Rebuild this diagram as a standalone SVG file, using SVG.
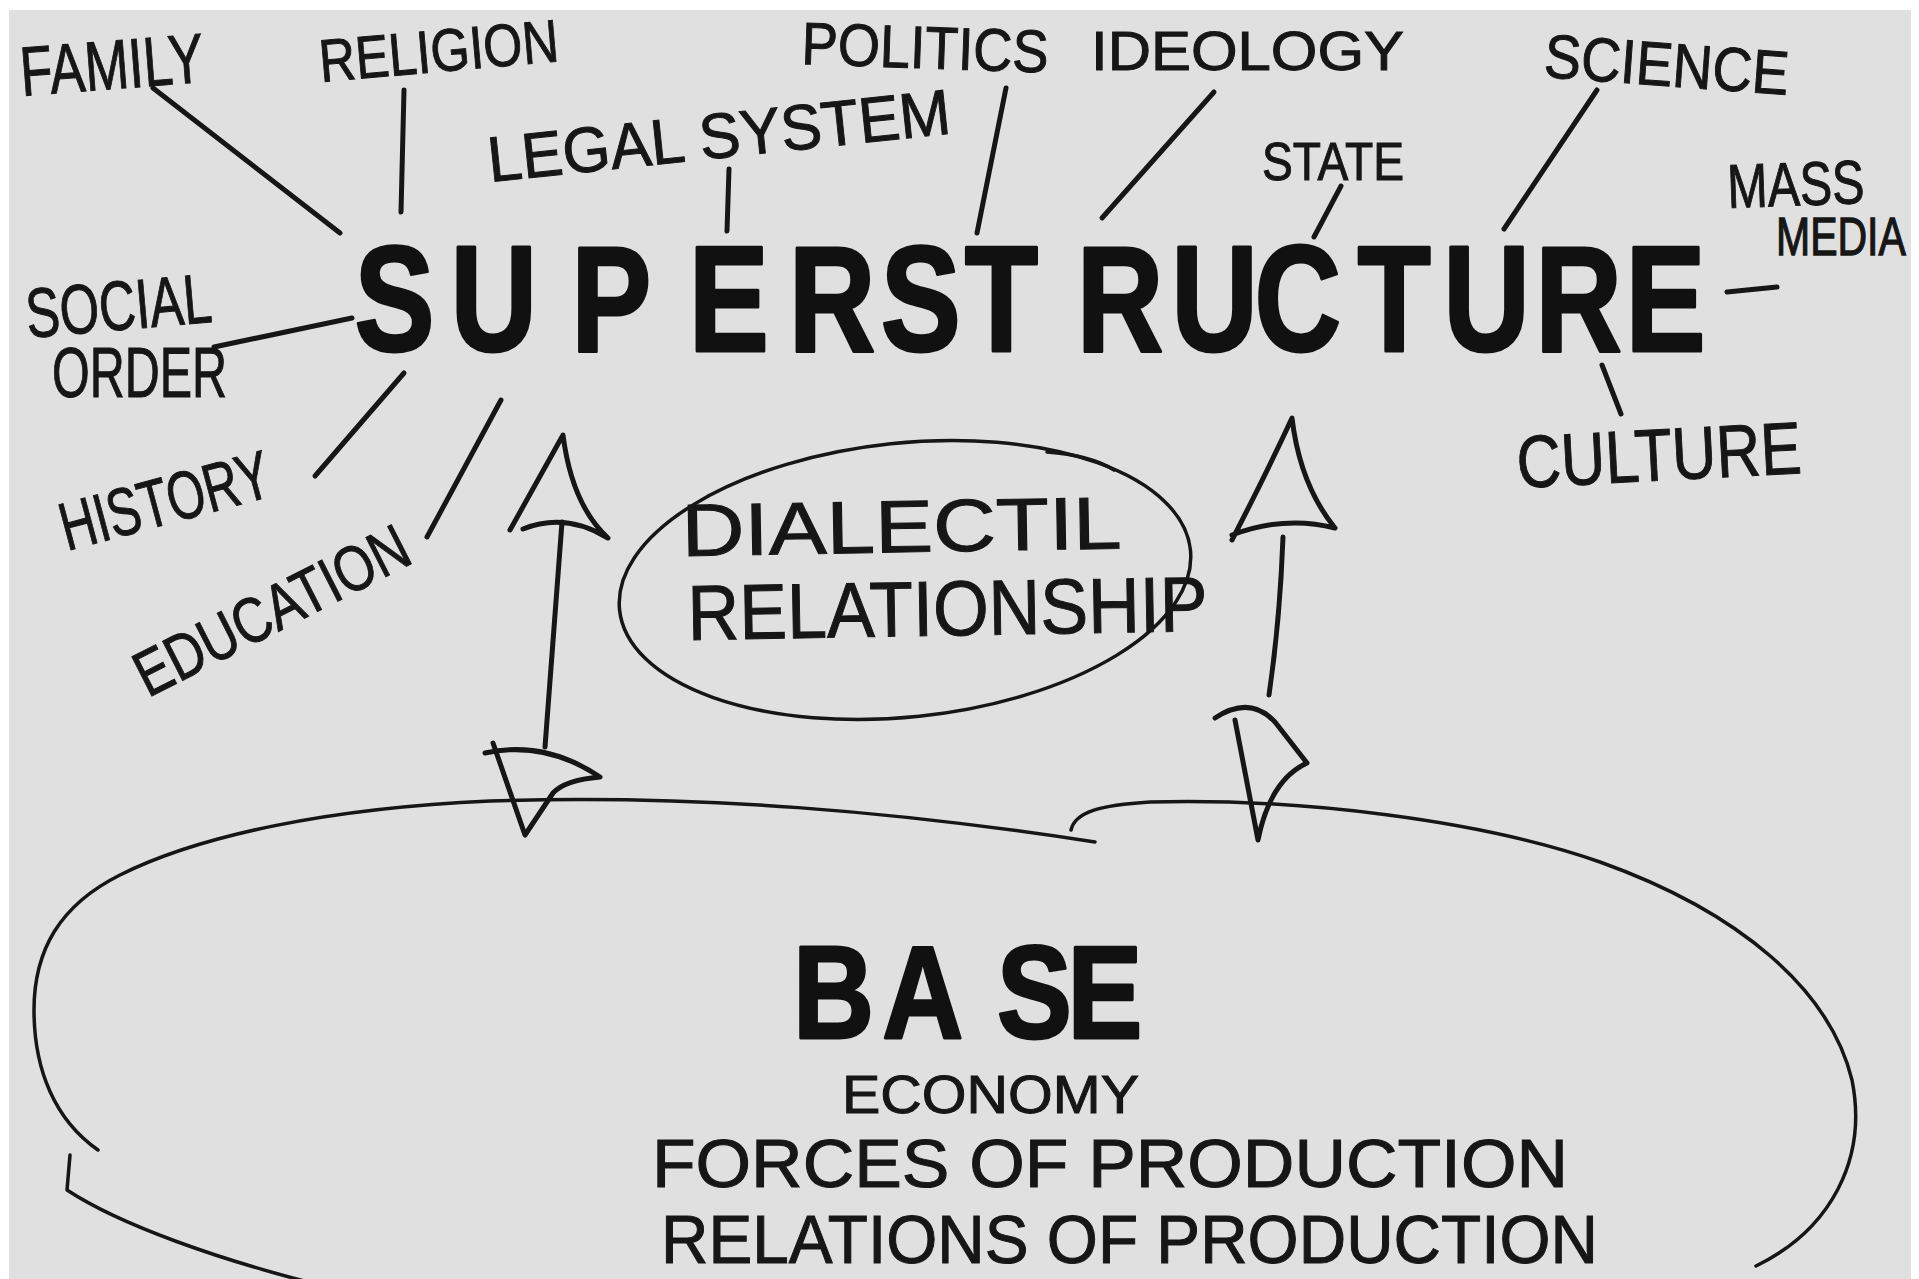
<svg xmlns="http://www.w3.org/2000/svg" width="1919" height="1279" viewBox="0 0 1919 1279">
<style>
.hw{font-family:"Liberation Sans",Arial,sans-serif;fill:#161616;stroke:#161616;stroke-width:1;}
.brush{font-family:"Liberation Sans",Arial,sans-serif;font-weight:bold;fill:#111;stroke:#111;stroke-width:3;stroke-linejoin:round;}
.ln{fill:none;stroke:#161616;stroke-width:5;stroke-linecap:round;stroke-linejoin:round;}
.ol{fill:none;stroke:#161616;stroke-width:3.5;stroke-linecap:round;stroke-linejoin:round;}
</style>
<rect x="0" y="0" width="1919" height="1279" fill="#ffffff"/>
<rect x="9" y="10" width="1902" height="1269" fill="#e0e0e0"/>

<g id="connectors">
  <line class="ln" x1="153" y1="88" x2="340" y2="233"/>
  <line class="ln" x1="404" y1="90" x2="401" y2="212"/>
  <line class="ln" x1="729" y1="169" x2="727" y2="231"/>
  <line class="ln" x1="352" y1="318" x2="214" y2="347"/>
  <line class="ln" x1="404" y1="373" x2="315" y2="476"/>
  <line class="ln" x1="501" y1="400" x2="427" y2="537"/>
  <line class="ln" x1="1006" y1="88" x2="977" y2="233"/>
  <line class="ln" x1="1214" y1="92" x2="1102" y2="218"/>
  <line class="ln" x1="1341" y1="186" x2="1314" y2="237"/>
  <line class="ln" x1="1597" y1="90" x2="1504" y2="229"/>
  <line class="ln" x1="1727" y1="292" x2="1777" y2="287"/>
  <line class="ln" x1="1602" y1="365" x2="1621" y2="414"/>
  <!-- left double arrow -->
  <path class="ln" d="M510,530 L563,435 Q572,505 608,538 Q565,512 523,529"/>
  <path class="ln" d="M562,522 L545,747"/>
  <path class="ln" d="M485,753 Q545,740 600,777 Q565,780 553,793 L525,835 L493,743"/>
  <!-- right double arrow -->
  <path class="ln" d="M1232,540 Q1268,470 1292,418 Q1300,485 1335,528 Q1285,515 1232,535"/>
  <path class="ln" d="M1283,537 Q1280,620 1269,695"/>
  <path class="ln" d="M1215,718 Q1250,695 1275,722 Q1293,745 1307,763 Q1270,780 1258,840 L1235,720"/>
</g>

<g id="superstructure">
  <text class="brush" font-size="150" transform="translate(0,351) scale(0.8,1)" x="443 563 714 861 986 1101 1206 1346 1464 1568 1697 1804 1919 2032" y="0">SUPERSTRUCTURE</text>
</g>

<g id="family"><text class="hw" x="22" y="96" font-size="70" textLength="184" lengthAdjust="spacingAndGlyphs" transform="rotate(-4.4,22,96)">FAMILY</text></g>
<g id="religion"><text class="hw" x="321" y="82" font-size="60" textLength="240" lengthAdjust="spacingAndGlyphs" transform="rotate(-5,321,82)">RELIGION</text></g>
<g id="legal-system"><text class="hw" x="490" y="182" font-size="64" textLength="465" lengthAdjust="spacingAndGlyphs" transform="rotate(-6,490,182)">LEGAL SYSTEM</text></g>
<g id="politics"><text class="hw" x="801" y="64" font-size="60" textLength="247" lengthAdjust="spacingAndGlyphs" transform="rotate(2,801,64)">POLITICS</text></g>
<g id="ideology"><text class="hw" x="1091" y="70" font-size="56" textLength="313" lengthAdjust="spacingAndGlyphs">IDEOLOGY</text></g>
<g id="state"><text class="hw" x="1262" y="180" font-size="54" textLength="142" lengthAdjust="spacingAndGlyphs">STATE</text></g>
<g id="science"><text class="hw" x="1543" y="77" font-size="62" textLength="245" lengthAdjust="spacingAndGlyphs" transform="rotate(4.2,1543,77)">SCIENCE</text></g>
<g id="mass-media">
  <text class="hw" x="1728" y="208" font-size="62" textLength="137" lengthAdjust="spacingAndGlyphs" transform="rotate(-2,1728,208)">MASS</text>
  <text class="hw" font-size="41" transform="translate(1776,255) scale(1,1.3)">MEDIA</text>
</g>
<g id="social-order">
  <text class="hw" x="28" y="338" font-size="70" textLength="186" lengthAdjust="spacingAndGlyphs" transform="rotate(-5,28,338)">SOCIAL</text>
  <text class="hw" x="52" y="397" font-size="70" textLength="175" lengthAdjust="spacingAndGlyphs">ORDER</text>
</g>
<g id="history"><text class="hw" x="67" y="551" font-size="68" textLength="215" lengthAdjust="spacingAndGlyphs" transform="rotate(-15,67,551)">HISTORY</text></g>
<g id="education"><text class="hw" x="148" y="698" font-size="64" textLength="300" lengthAdjust="spacingAndGlyphs" transform="rotate(-27,148,698)">EDUCATION</text></g>
<g id="culture"><text class="hw" x="1518" y="488" font-size="74" textLength="285" lengthAdjust="spacingAndGlyphs" transform="rotate(-3,1518,488)">CULTURE</text></g>

<g id="dialectic">
  <ellipse class="ol" cx="905" cy="580" rx="287" ry="137" transform="rotate(-6,905,580)"/>
  <path class="ol" d="M1047,452 Q1090,455 1114,470"/>
  <text class="hw" x="682" y="556" font-size="74" textLength="440" lengthAdjust="spacingAndGlyphs" transform="rotate(-1,682,556)">DIALECTIL</text>
  <text class="hw" x="688" y="640" font-size="78" textLength="520" lengthAdjust="spacingAndGlyphs" transform="rotate(-1,688,640)">RELATIONSHIP</text>
</g>

<g id="base">
  <path class="ol" d="M98,1150 C55,1120 34,1070 34,1010 C34,950 60,905 120,875 C200,835 330,808 490,801 C700,794 900,812 1095,842"/>
  <path class="ol" d="M1071,830 C1075,812 1100,805 1150,802 C1300,798 1480,820 1600,862 C1740,912 1830,990 1852,1080 C1868,1160 1830,1230 1756,1266"/>
  <path class="ol" d="M70,1155 L67,1190 C120,1225 220,1260 320,1285"/>
  <text class="brush" font-size="132" transform="translate(0,1038) scale(0.85,1)" x="933 1038 1173 1256" y="0">BASE</text>
  <text class="hw" x="842" y="1113" font-size="54" textLength="297" lengthAdjust="spacingAndGlyphs">ECONOMY</text>
  <text class="hw" x="652" y="1187" font-size="68" textLength="916" lengthAdjust="spacingAndGlyphs">FORCES OF PRODUCTION</text>
  <text class="hw" x="661" y="1263" font-size="68" textLength="937" lengthAdjust="spacingAndGlyphs">RELATIONS OF PRODUCTION</text>
</g>
<rect x="1911" y="0" width="8" height="1279" fill="#ffffff"/>
</svg>
